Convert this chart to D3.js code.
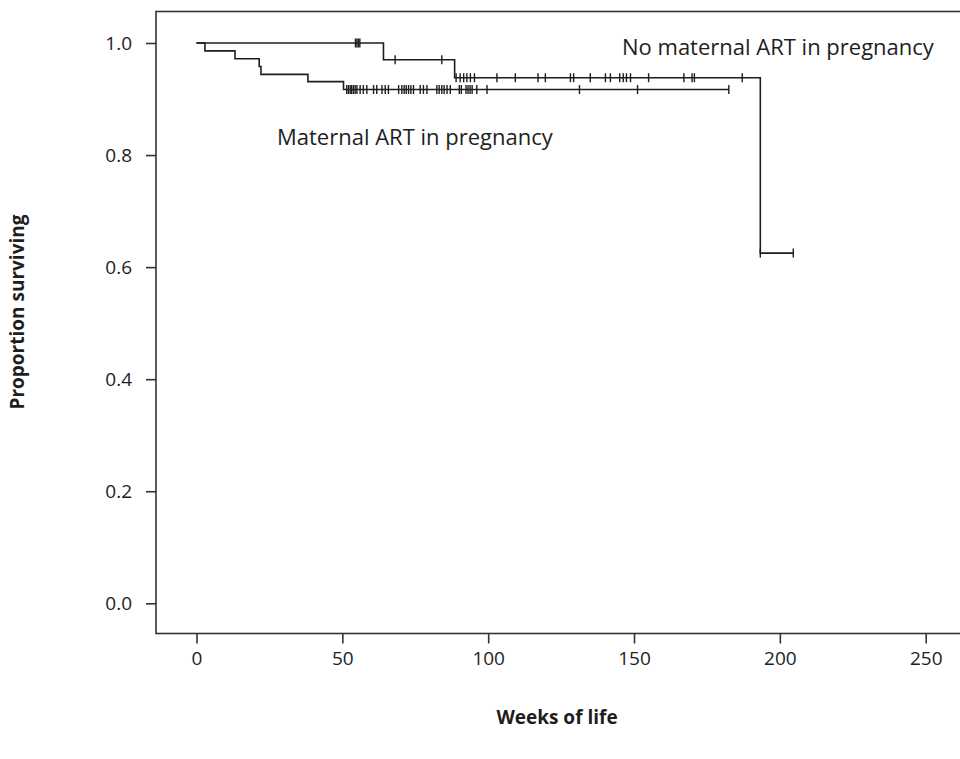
<!DOCTYPE html>
<html>
<head>
<meta charset="utf-8">
<script src="https://cdn.jsdelivr.net/npm/d3@7"></script>
<style>
  body { margin: 0; background: #fff; }
  svg { display: block; font-family: "Open Sans", sans-serif; }
</style>
</head>
<body>
<svg class="km"></svg>
<script>
// Kaplan-Meier data (weeks of life)
var artDropTimes = [0, 2.9, 13.2, 21.5, 22.1, 38.2, 50.4];
var artSurvival = [1, 0.986, 0.972, 0.958, 0.944, 0.931, 0.917];
var artCensored = [51.5, 52.1, 52.7, 53.2, 53.8, 54.4, 55.0, 56.1, 57.2, 58.4,
  60.7, 61.8, 63.6, 64.7, 65.8, 69.3, 70.4, 71.2, 71.9, 72.7, 73.5, 74.4,
  76.7, 77.8, 79.0, 82.4, 83.2, 84.1, 84.9, 85.9, 87.0, 90.1, 90.8, 92.4,
  93.1, 93.8, 94.5, 96.1, 99.6, 131.3, 151.2, 182.5];
var artEnd = 182.5;

var noArtDropTimes = [0, 64.1, 88.5, 193.3];
var noArtSurvival = [1, 0.970, 0.938, 0.625];
var noArtCensored = [54.5, 55.0, 55.5, 56.0, 68.1, 84.1, 89.0, 90.4, 91.6,
  92.7, 93.9, 95.3, 103.0, 109.3, 117.1, 119.6, 128.2, 129.3, 135.0, 140.2,
  141.9, 145.1, 146.3, 147.4, 148.8, 155.0, 167.1, 169.9, 170.7, 187.1,
  193.3, 204.6];
var noArtEnd = 204.6;

var xTicks = [0, 50, 100, 150, 200, 250];
var yTicks = [0, 0.2, 0.4, 0.6, 0.8, 1.0];

var width = 960, height = 759;
var ink = "#1e1e1e";

var svg = d3.select("svg.km")
    .attr("width", width)
    .attr("height", height);

var x = d3.scaleLinear().domain([0, 250]).range([196.5, 925.7]);
var y = d3.scaleLinear().domain([0, 1]).range([603.3, 43]);

// frame
var frame = {left: 156, top: 11.5, right: 962, bottom: 633.5};
svg.append("rect")
    .attr("x", frame.left).attr("y", frame.top)
    .attr("width", frame.right - frame.left)
    .attr("height", frame.bottom - frame.top)
    .attr("fill", "none")
    .attr("stroke", "#333")
    .attr("stroke-width", 1.6);

// axes
var xAxis = svg.append("g")
    .attr("transform", "translate(0," + frame.bottom + ")")
    .call(d3.axisBottom(x).tickValues(xTicks).tickSize(10).tickPadding(8));
var yAxis = svg.append("g")
    .attr("transform", "translate(" + frame.left + ",0)")
    .call(d3.axisLeft(y).tickValues(yTicks).tickSize(10).tickPadding(14)
      .tickFormat(d3.format(".1f")));

[xAxis, yAxis].forEach(function(a) {
  a.select(".domain").remove();
  a.selectAll(".tick line").attr("stroke", "#333").attr("stroke-width", 1.6);
  a.selectAll(".tick text")
      .attr("fill", ink)
      .style("font-family", "'Open Sans', sans-serif")
      .style("font-size", "19px");
});

// step curve builder
function stepPath(times, surv, end) {
  var pts = [];
  for (var i = 0; i < times.length; i++) {
    if (i > 0) pts.push([times[i], surv[i-1]]);
    pts.push([times[i], surv[i]]);
  }
  pts.push([end, surv[surv.length-1]]);
  return d3.line().x(function(d) { return x(d[0]); }).y(function(d) { return y(d[1]); })(pts);
}

function survAt(times, surv, t) {
  var v = surv[0];
  for (var i = 0; i < times.length; i++) if (times[i] <= t) v = surv[i];
  return v;
}

function drawCurve(times, surv, end, censored) {
  var g = svg.append("g");
  g.append("path")
      .attr("d", stepPath(times, surv, end))
      .attr("fill", "none")
      .attr("stroke", ink)
      .attr("stroke-width", 1.6);
  g.selectAll("line.censor")
      .data(censored)
    .enter().append("line")
      .attr("class", "censor")
      .attr("x1", function(d) { return x(d); })
      .attr("x2", function(d) { return x(d); })
      .attr("y1", function(d) { return y(survAt(times, surv, d)) - 4.5; })
      .attr("y2", function(d) { return y(survAt(times, surv, d)) + 4.5; })
      .attr("stroke", ink)
      .attr("stroke-width", 1.4);
}

drawCurve(noArtDropTimes, noArtSurvival, noArtEnd, noArtCensored);
drawCurve(artDropTimes, artSurvival, artEnd, artCensored);

// curve labels
svg.append("text")
    .attr("x", 622).attr("y", 55)
    .attr("fill", ink)
    .style("font-size", "22px")
    .text("No maternal ART in pregnancy");
svg.append("text")
    .attr("x", 277).attr("y", 145)
    .attr("fill", ink)
    .style("font-size", "22px")
    .text("Maternal ART in pregnancy");

// axis titles
svg.append("text")
    .attr("x", 557).attr("y", 724)
    .attr("text-anchor", "middle")
    .attr("fill", ink)
    .style("font-size", "19px")
    .style("font-weight", "bold")
    .text("Weeks of life");
svg.append("text")
    .attr("transform", "translate(24,312) rotate(-90)")
    .attr("text-anchor", "middle")
    .attr("fill", ink)
    .style("font-size", "19px")
    .style("font-weight", "bold")
    .text("Proportion surviving");
</script>
</body>
</html>
